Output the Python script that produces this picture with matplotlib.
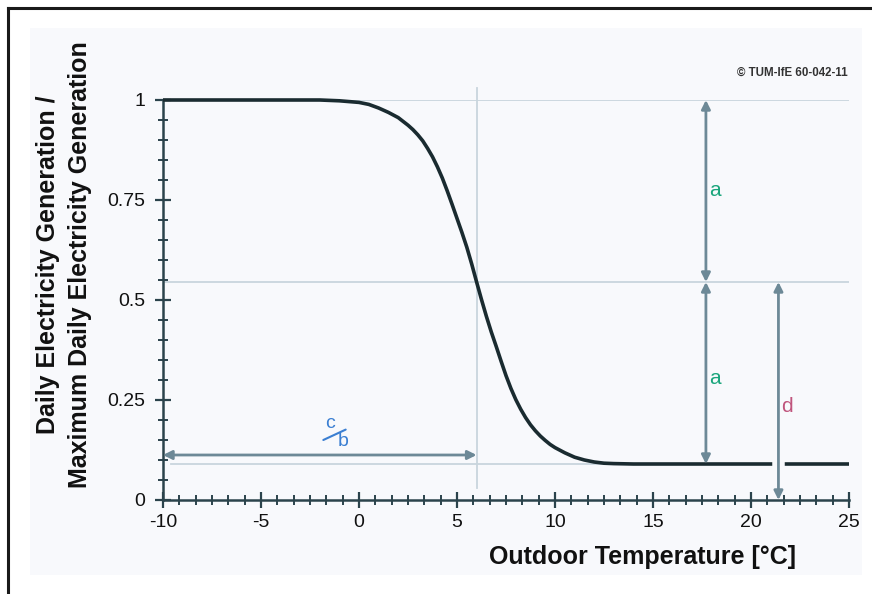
import matplotlib
matplotlib.use("Agg")
import matplotlib.pyplot as plt
from matplotlib.patches import Rectangle
from matplotlib.lines import Line2D
from matplotlib.ticker import MultipleLocator, FixedLocator

plt.rcParams["font.family"] = ["Liberation Sans", "DejaVu Sans"]
plt.rcParams["axes.unicode_minus"] = False

# outdoor temperature [°C] and normalised daily generation
temps = [-10, -5, -2, -1, 0, 0.5, 1, 1.5, 2, 2.5, 2.75, 3, 3.25, 3.5, 3.75, 4, 4.25,
         4.5, 4.75, 5, 5.25, 5.5, 5.75, 6, 6.25, 6.5, 6.75, 7, 7.25, 7.5, 7.75, 8,
         8.25, 8.5, 8.75, 9, 9.25, 9.5, 9.75, 10, 10.5, 11, 11.5, 12, 12.5, 13, 14,
         15, 20, 25]
gen = [1.0, 1.0, 1.0, 0.998, 0.994, 0.989, 0.980, 0.969, 0.956, 0.937, 0.926, 0.913,
       0.898, 0.879, 0.858, 0.833, 0.805, 0.773, 0.739, 0.704, 0.669, 0.632, 0.59,
       0.545, 0.501, 0.459, 0.42, 0.384, 0.347, 0.311, 0.279, 0.251, 0.227, 0.206,
       0.188, 0.173, 0.16, 0.149, 0.139, 0.131, 0.118, 0.107, 0.1, 0.095, 0.092,
       0.091, 0.09, 0.09, 0.09, 0.09]

# sigmoid parameters shown as dimension arrows
d_val = 0.545        # turning-point level
low_val = 0.09       # lower asymptote
top_val = 1.0
t_turn = 6.0         # temperature at turning point
x_arrow_a = 17.7
x_arrow_d = 21.4
y_arrow_cb = 0.1125

x_ticks = [-10, -5, 0, 5, 10, 15, 20, 25]
y_ticks = [0, 0.25, 0.5, 0.75, 1]
y_ticklabels = ["0", "0.25", "0.5", "0.75", "1"]

AXIS = "#2b434c"
CURVE = "#1a2b30"
GRID = "#c9d5dd"
ARROW = "#6d8997"
BG = "#f8f9fc"

fig = plt.figure(figsize=(8.72, 5.94), dpi=100)
W, H = 872, 594

def fx(px):
    return px / W

def fy(py):
    return 1 - py / H

# panel background and frame
fig.patches.append(Rectangle((fx(30), fy(575)), fx(862) - fx(30), fy(28) - fy(575),
                             transform=fig.transFigure, facecolor=BG, edgecolor="none", zorder=-5))
fig.lines.append(Line2D([fx(8), fx(8)], [fy(8), 0], transform=fig.transFigure, color="#1a1a1a", lw=2.2))
fig.lines.append(Line2D([fx(8), 1], [fy(8), fy(8)], transform=fig.transFigure, color="#1a1a1a", lw=2.2))

ax = fig.add_axes([fx(163), fy(500), fx(849) - fx(163), fy(100) - fy(500)])
ax.set_zorder(2)
ax.patch.set_alpha(0)
ax.set_xlim(-10, 25)
ax.set_ylim(0, 1)

# helper lines
ax.plot([-10, 25], [top_val, top_val], color=GRID, lw=1.3, zorder=1)
ax.plot([-10, 25], [d_val, d_val], color=GRID, lw=1.3, zorder=1)
ax.plot([-9.6, 25], [low_val, low_val], color=GRID, lw=1.3, zorder=1)
ax.plot([t_turn, t_turn], [0.03, 1.03], color=GRID, lw=1.3, zorder=1, clip_on=False)

ax.plot(temps, gen, color=CURVE, lw=2.6, zorder=3, clip_on=False,
        solid_capstyle="butt", solid_joinstyle="round")

# gap in the curve where the d arrow crosses it
ax.plot([x_arrow_d, x_arrow_d], [low_val - 0.01, low_val + 0.01], color=BG, lw=9, zorder=4)

def dim_arrow(x0, y0, x1, y1):
    ax.annotate("", xy=(x1, y1), xytext=(x0, y0),
                arrowprops=dict(arrowstyle="<|-|>", color=ARROW, lw=2.0,
                                mutation_scale=13, shrinkA=0, shrinkB=0), zorder=5)

dim_arrow(x_arrow_a, d_val, x_arrow_a, top_val)
dim_arrow(x_arrow_a, low_val, x_arrow_a, d_val)
dim_arrow(x_arrow_d, 0, x_arrow_d, d_val)
dim_arrow(-10, y_arrow_cb, t_turn, y_arrow_cb)

ax.text(18.15, 0.775, "a", color="#19a57b", fontsize=15, ha="center", va="center")
ax.text(18.15, 0.305, "a", color="#19a57b", fontsize=15, ha="center", va="center")
ax.text(21.85, 0.233, "d", color="#c0557d", fontsize=15, ha="center", va="center")

# c/b as a slanted fraction
cb_col = "#3b7fd2"
ax.text(-1.48, 0.19, "c", color=cb_col, fontsize=14, ha="center", va="center")
ax.text(-0.82, 0.145, "b", color=cb_col, fontsize=14, ha="center", va="center")
ax.annotate("", xy=(-0.68, 0.176), xytext=(-1.82, 0.15),
            arrowprops=dict(arrowstyle="-", color=cb_col, lw=1.5, shrinkA=0, shrinkB=0))

# axes styling
for side in ("top", "right"):
    ax.spines[side].set_visible(False)
for side in ("left", "bottom"):
    ax.spines[side].set_color(AXIS)
    ax.spines[side].set_linewidth(1.8)

ax.xaxis.set_major_locator(FixedLocator(x_ticks))
ax.xaxis.set_minor_locator(MultipleLocator(5 / 6))
ax.yaxis.set_major_locator(FixedLocator(y_ticks))
ax.yaxis.set_minor_locator(MultipleLocator(0.05))
ax.set_yticklabels(y_ticklabels)
ax.tick_params(which="major", direction="inout", length=12, width=1.6, color=AXIS,
               labelsize=14, labelcolor="#111111")
ax.tick_params(which="minor", direction="inout", length=6.5, width=1.4, color=AXIS)
ax.tick_params(axis="x", which="major", pad=4)
ax.tick_params(axis="y", which="major", pad=7)

fig.text(fx(642), fy(557), "Outdoor Temperature [°C]", fontsize=18, fontweight="bold",
         ha="center", va="center", color="#111111")
fig.text(fx(64), fy(265), "Daily Electricity Generation /\nMaximum Daily Electricity Generation",
         fontsize=18, fontweight="bold", rotation=90, ha="center", va="center",
         multialignment="center", linespacing=1.4, color="#111111")
fig.text(fx(848), fy(73), "© TUM-IfE 60-042-11", fontsize=8.3, fontweight="bold",
         ha="right", va="center", color="#333333")

fig.savefig("out.png", dpi=100)
